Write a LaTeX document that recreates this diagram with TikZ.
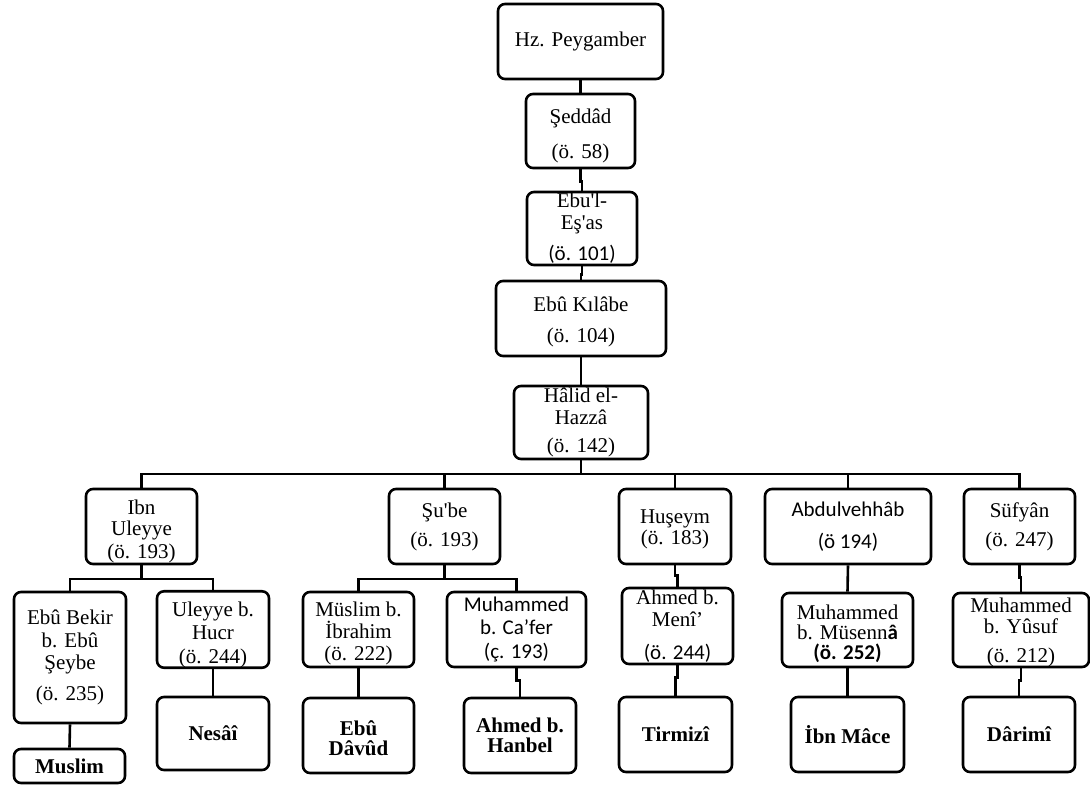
\documentclass[tikz,border=0pt]{standalone}
\usepackage{fontspec}
\setmainfont{Liberation Serif}
\newfontfamily\calfont{Carlito}
\newcommand{\upstrut}[1]{\rule{0pt}{#1}}
\newcommand{\sq}{\textquotesingle}
\begin{document}
\begin{tikzpicture}[x=1pt,y=-1pt,
  box/.style={draw=black, line width=2.6pt, rounded corners=7pt, align=center,
    inner sep=0pt, font=\fontsize{21}{23}\selectfont},
  endbox/.style={box, font=\fontsize{21}{23}\selectfont\bfseries},
  link/.style={draw=black, line width=2.6pt}]
\useasboundingbox (0,0) rectangle (1090,785);

% chain from the Prophet down to Halid el-Hazza
\node[box, minimum width=165, minimum height=75] (hz) at (580.5,41.5) {Hz. Peygamber};
\node[box, minimum width=109, minimum height=74] (sed) at (580.5,131)
  {\upstrut{25pt}Şeddâd\\[12pt](ö. 58)};
\node[box, minimum width=110, minimum height=73] (esas) at (582,228.5)
  {Ebu\sq l-\\[-1pt]Eş\sq as\\[8pt]{\calfont (ö. 101)}};
\node[box, minimum width=170, minimum height=75] (kil) at (581,318.5)
  {\upstrut{22pt}Ebû Kılâbe\\[8pt](ö. 104)};
\node[box, minimum width=134, minimum height=73] (hal) at (581,422.5)
  {Hâlid el-\\[-1pt]Hazzâ\\[5pt](ö. 142)};

% second generation
\node[box, minimum width=111, minimum height=75] (ibn) at (141.5,526.5)
  {\upstrut{25pt}Ibn\\[-2pt]Uleyye\\(ö. 193)};
\node[box, minimum width=111, minimum height=75] (sube) at (444.5,526.5)
  {Şu\sq be\\[6pt](ö. 193)};
\node[box, minimum width=112, minimum height=75] (hus) at (675,526.5)
  {\upstrut{20pt}Huşeym\\[-2pt](ö. 183)};
\node[box, minimum width=166, minimum height=75, font=\fontsize{21}{23}\calfont] (abd) at (848,526.5)
  {Abdulvehhâb\\[9pt](ö 194)};
\node[box, minimum width=111, minimum height=75] (suf) at (1019.5,526.5)
  {Süfyân\\[6pt](ö. 247)};

% third generation
\node[box, minimum width=112, minimum height=131] (ebubekir) at (70,657.5)
  {Ebû Bekir\\b. Ebû\\[-1pt]Şeybe\\[8pt](ö. 235)};
\node[box, minimum width=112, minimum height=75] (uleyye) at (213,629.5)
  {\upstrut{25pt}Uleyye b.\\Hucr\\[1pt](ö. 244)};
\node[box, minimum width=111, minimum height=75] (muslimb) at (358.5,629.5)
  {\upstrut{22pt}Müslim b.\\[-1pt]İbrahim\\[-1pt](ö. 222)};
\node[box, minimum width=139, minimum height=75, font=\fontsize{21}{23}\calfont] (cafer) at (516.5,629.5)
  {Muhammed\\b. Ca’fer\\[1pt](ç. 193)};
\node[box, minimum width=111, minimum height=76] (meni) at (677.5,626)
  {Ahmed b.\\[-1pt]Menî’\\[10pt]{\calfont (ö. 244)}};
\node[box, minimum width=131, minimum height=74] (musenna) at (847.5,630)
  {\upstrut{22pt}Muhammed\\[-3pt]b. Müsenn{\calfont\bfseries â}\\[-3pt]{\calfont\bfseries (ö. 252)}};
\node[box, minimum width=136, minimum height=74] (yusuf) at (1021,630)
  {\upstrut{19pt}Muhammed\\[-2pt]b. Yûsuf\\[6pt](ö. 212)};

% the six collectors
\node[endbox, minimum width=111, minimum height=34] (muslim) at (69.5,766) {Muslim};
\node[endbox, minimum width=112, minimum height=73] (nesai) at (213,733.5) {Nesâî};
\node[endbox, minimum width=111, minimum height=75] (davud) at (358.5,735.5) {\upstrut{20pt}Ebû\\[-3pt]Dâvûd};
\node[endbox, minimum width=112, minimum height=75] (hanbel) at (520,735.5) {Ahmed b.\\[-3pt]Hanbel};
\node[endbox, minimum width=113, minimum height=75] (tirmizi) at (675.5,734.5) {Tirmizî};
\node[endbox, minimum width=113, minimum height=75] (ibnmace) at (847.5,734.5) {İbn Mâce};
\node[endbox, minimum width=112, minimum height=75] (darimi) at (1019,734.5) {Dârimî};

% connectors of the main chain
\draw[link] (hz.south) -- (sed.north);
\draw[link] (sed.south) -- ++(0,12) -| (esas.north);
\draw[link] (esas.south) -- ++(0,8) -| (kil.north);
\draw[link] (kil.south) -- (hal.north);

% branching bus under Halid el-Hazza
\coordinate (bus) at (hal.south |- 0,474);
\draw[link] (hal.south) -- (bus);
\draw[link] (ibn.north) |- (bus) -| (suf.north);
\draw[link] (bus) -| (sube.north);
\draw[link] (bus) -| (hus.north);
\draw[link] (bus) -| (abd.north);

% Ibn Uleyye branch
\coordinate (busL) at (ibn.south |- 0,579);
\draw[link] (ibn.south) -- (busL);
\draw[link] (ebubekir.north) |- (busL) -| (uleyye.north);
\draw[link] (ebubekir.south) -- (muslim.north);
\draw[link] (uleyye.south) -- (nesai.north);

% Shu'be branch
\coordinate (busS) at (sube.south |- 0,579);
\draw[link] (sube.south) -- (busS);
\draw[link] (muslimb.north) |- (busS) -| (cafer.north);
\draw[link] (muslimb.south) -- (davud.north);
\draw[link] (cafer.south) -- ++(0,12) -| (hanbel.north);

% Husheym branch
\draw[link] (hus.south) -- ++(0,10) -| (meni.north);
\draw[link] (meni.south) -- ++(0,12) -| (tirmizi.north);

% Abdulvehhab branch
\draw[link] (abd.south) -- (musenna.north);
\draw[link] (musenna.south) -- (ibnmace.north);

% Sufyan branch
\draw[link] (suf.south) -- ++(0,12) -| (yusuf.north);
\draw[link] (yusuf.south) -- ++(0,12) -| (darimi.north);
\end{tikzpicture}
\end{document}
